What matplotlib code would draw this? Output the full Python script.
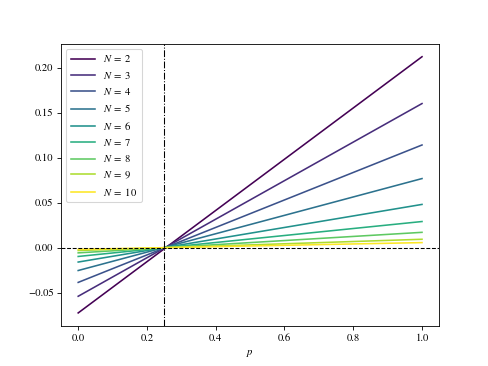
import numpy as np
import matplotlib
matplotlib.use("Agg")
import matplotlib.pyplot as plt

plt.rcParams['font.family'] = ['STIXGeneral', 'DejaVu Serif']
plt.rcParams['mathtext.fontset'] = 'stix'

N_values = [2, 3, 4, 5, 6, 7, 8, 9, 10]
p_values = [0.0, 1.0]
start_values = [-0.0725, -0.0540, -0.0386, -0.0254, -0.0160, -0.0098, -0.0058, -0.0032, -0.0019]
end_values = [0.212, 0.160, 0.114, 0.0767, 0.048, 0.029, 0.017, 0.0093, 0.0056]
p_threshold = 0.25

fig, ax = plt.subplots(figsize=(6.4, 4.8), dpi=76.25)
colors = plt.cm.viridis(np.linspace(0, 1, len(N_values)))
for N, s, e, c in zip(N_values, start_values, end_values, colors):
    ax.plot(p_values, [s, e], color=c, label=rf"$N\;=\;{N}$")

ax.axhline(0, color='black', linestyle='--', linewidth=1)
ax.axvline(p_threshold, color='black', linestyle='-.', linewidth=1)
ax.set_xlabel("$p$")
ax.legend(loc='upper left', handlelength=2.3)
fig.savefig("out.png", dpi=76.25)
